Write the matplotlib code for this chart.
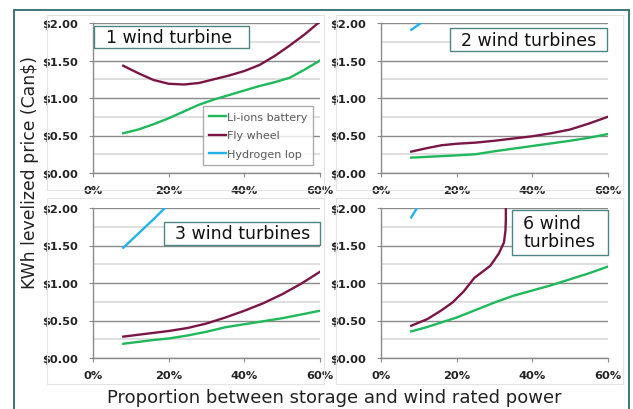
import matplotlib
matplotlib.use("Agg")
import matplotlib.pyplot as plt
from matplotlib.patches import Rectangle
from matplotlib.ticker import FuncFormatter, MultipleLocator

plt.rcParams['font.family'] = ['DejaVu Sans']

W, H = 633, 410

# Storage share (%) and levelized price (Can$/kWh) per scenario
titles = ["1 wind turbine", "2 wind turbines", "3 wind turbines", "6 wind\nturbines"]

x1 = [8, 12, 16, 20, 24, 28, 32, 36, 40, 44, 48, 52, 56, 60]
li_ion_1 = [0.53, 0.58, 0.65, 0.73, 0.82, 0.91, 0.98, 1.04, 1.10, 1.16, 1.21, 1.27, 1.38, 1.50]
flywheel_1 = [1.43, 1.33, 1.24, 1.19, 1.18, 1.20, 1.25, 1.30, 1.36, 1.44, 1.56, 1.70, 1.85, 2.02]
x_h2_1 = []
hydrogen_1 = []

x2 = [8, 12, 16, 20, 25, 30, 35, 40, 45, 50, 55, 60]
li_ion_2 = [0.205, 0.215, 0.225, 0.235, 0.25, 0.29, 0.325, 0.36, 0.395, 0.43, 0.47, 0.52]
flywheel_2 = [0.285, 0.33, 0.37, 0.39, 0.405, 0.43, 0.46, 0.49, 0.53, 0.58, 0.66, 0.75]
x_h2_2 = [8, 12]
hydrogen_2 = [1.91, 2.05]

x3 = [8, 12, 16, 20, 25, 30, 35, 40, 45, 50, 55, 60]
li_ion_3 = [0.19, 0.215, 0.24, 0.26, 0.30, 0.35, 0.41, 0.45, 0.49, 0.53, 0.58, 0.63]
flywheel_3 = [0.285, 0.31, 0.335, 0.36, 0.40, 0.46, 0.54, 0.63, 0.73, 0.85, 0.99, 1.15]
x_h2_3 = [8, 12, 16, 20]
hydrogen_3 = [1.47, 1.66, 1.85, 2.05]

x4_li = [8, 12, 16, 20, 25, 30, 35, 40, 45, 50, 55, 60]
li_ion_4 = [0.355, 0.41, 0.475, 0.54, 0.64, 0.74, 0.83, 0.90, 0.97, 1.05, 1.13, 1.22]
x4_fw = [8, 12.3, 15.8, 18.9, 21.9, 24.7, 26.3, 28.9, 31.1, 32.5, 32.9, 33.0, 33.0]
flywheel_4 = [0.43, 0.52, 0.63, 0.74, 0.89, 1.07, 1.13, 1.23, 1.39, 1.54, 1.70, 1.85, 2.05]
x_h2_4 = [8, 10]
hydrogen_4 = [1.875, 2.04]

li_series = [(x1, li_ion_1), (x2, li_ion_2), (x3, li_ion_3), (x4_li, li_ion_4)]
fw_series = [(x1, flywheel_1), (x2, flywheel_2), (x3, flywheel_3), (x4_fw, flywheel_4)]
h2_series = [(x_h2_1, hydrogen_1), (x_h2_2, hydrogen_2), (x_h2_3, hydrogen_3), (x_h2_4, hydrogen_4)]

C_LI = "#1fb85a"
C_FW = "#7a1646"
C_H2 = "#22b2ec"
TEAL = "#2e6b6b"

fig = plt.figure(figsize=(W / 100, H / 100), dpi=100)


def fx(px):
    return px / W


def fy(py):
    return 1 - py / H


def frame(x0, y0, x1_, y1_, ec, lw):
    fig.patches.append(Rectangle((fx(x0), fy(y1_)), fx(x1_) - fx(x0), fy(y0) - fy(y1_),
                                 transform=fig.transFigure, fill=False, ec=ec, lw=lw))


# outer border and light panel frames
frame(14, 11, 629, 420, TEAL, 1.3)
for (a, b, c, d) in [(47, 16, 324, 191), (336, 16, 623, 191), (47, 199, 324, 385), (336, 199, 623, 385)]:
    frame(a, b, c, d, "#e3e3e3", 0.8)

axes_px = [(93, 24), (381, 24), (93, 209), (381, 209)]
aw, ah = 227, 150

price_fmt = FuncFormatter(lambda v, p: f"${v:.2f}")
pct_fmt = FuncFormatter(lambda v, p: f"{v:.0f}%")

for i, (l, t) in enumerate(axes_px):
    ax = fig.add_axes([fx(l), fy(t + ah), aw / W, ah / H])
    ax.set_xlim(0, 60)
    ax.set_ylim(0, 2)
    ax.yaxis.set_major_locator(MultipleLocator(0.5))
    ax.yaxis.set_minor_locator(MultipleLocator(0.25))
    ax.xaxis.set_major_locator(MultipleLocator(20))
    ax.yaxis.set_major_formatter(price_fmt)
    ax.xaxis.set_major_formatter(pct_fmt)
    ax.grid(which='minor', axis='y', color="#d9d9d9", lw=1.2)
    ax.grid(which='major', axis='y', color="#8a8a8a", lw=1.0)
    ax.set_axisbelow(True)
    for s in ("top", "right"):
        ax.spines[s].set_visible(False)
    for s in ("left", "bottom"):
        ax.spines[s].set_color("#8a8a8a")
        ax.spines[s].set_linewidth(1.0)
    ax.tick_params(axis='both', which='major', length=3, color="#8a8a8a", labelsize=8.2,
                   labelcolor="#222222")
    ax.tick_params(axis='y', which='minor', length=0)
    ax.tick_params(axis='y', pad=8)
    ax.tick_params(axis='x', pad=6)
    for lab in ax.get_xticklabels() + ax.get_yticklabels():
        lab.set_fontweight('bold')

    xs, ys = li_series[i]
    ax.plot(xs, ys, color=C_LI, lw=1.7, solid_joinstyle='round', label="Li-ions battery")
    xs, ys = fw_series[i]
    ax.plot(xs, ys, color=C_FW, lw=1.7, solid_joinstyle='round', label="Fly wheel")
    xs, ys = h2_series[i]
    ax.plot(xs, ys, color=C_H2, lw=1.7, solid_joinstyle='round', label="Hydrogen lop")

    if i == 0:
        leg = ax.legend(loc='upper left', bbox_to_anchor=(fx(203), fy(107)),
                        bbox_transform=fig.transFigure, fontsize=8, frameon=True,
                        fancybox=False, handlelength=1.5, handletextpad=0.1,
                        labelspacing=0.75, borderpad=0.55, borderaxespad=0)
        leg.get_frame().set_edgecolor("#9a9a9a")
        leg.get_frame().set_linewidth(1.0)
        for txt in leg.get_texts():
            txt.set_color("#595959")

# scenario title boxes
title_boxes = [(94, 27, 249, 49, 106), (450, 29, 607, 52, 461),
               (164, 223, 320, 246, 175), (512, 211, 608, 256, 523)]
for (a, b, c, d, tx), ttl in zip(title_boxes, titles):
    fig.patches.append(Rectangle((fx(a), fy(d)), fx(c) - fx(a), fy(b) - fy(d),
                                 transform=fig.transFigure, fc="white", ec="#4d8585", lw=1.0,
                                 zorder=5))
    fig.text(fx(tx), fy((b + d) / 2), ttl, fontsize=12.5, ha='left', va='center',
             color="#111111", linespacing=1.0, zorder=6)

fig.text(fx(30), fy(173), "KWh levelized price (Can$)", rotation=90, fontsize=12.4,
         ha='center', va='center', color="#222222")
fig.text(fx(334), fy(398), "Proportion between storage and wind rated power", fontsize=13,
         ha='center', va='center', color="#222222")

fig.savefig("out.png", dpi=100)
